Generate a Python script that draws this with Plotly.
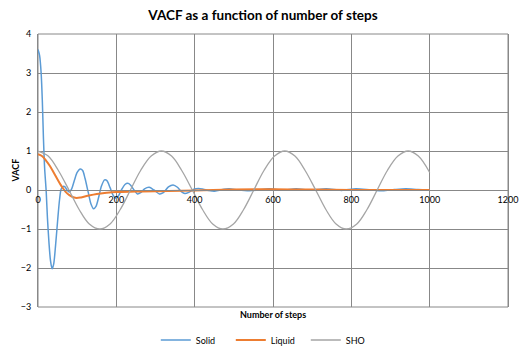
import plotly.graph_objects as go

# ---- data ----
solid_steps = [0, 4, 8, 11, 14, 17, 21, 24, 28, 32, 36, 40, 45, 50, 55, 59, 64, 69, 74, 80,
               86, 93, 100, 108, 114, 120, 128, 135, 142, 148, 155, 162, 170, 176, 184, 192,
               199, 206, 214, 222, 229, 236, 245, 254, 262, 272, 284, 296, 310, 320, 333, 345,
               356, 366, 375, 385, 398, 410, 422, 435, 450, 465, 488, 510, 540, 565, 590, 625,
               659, 695, 736, 775, 812, 850, 880, 910, 939, 970, 1000]
solid_vals = [3.6, 3.45, 3.0, 2.3, 1.3, 0.55, -0.05, -0.7, -1.35, -1.82, -2.02, -1.9, -1.4,
              -0.8, -0.25, 0.02, 0.09, 0.08, 0.0, -0.05, 0.03, 0.25, 0.45, 0.54, 0.5, 0.3,
              -0.05, -0.35, -0.48, -0.42, -0.18, 0.1, 0.26, 0.24, 0.06, -0.14, -0.21, -0.14,
              0.02, 0.14, 0.17, 0.13, 0.0, -0.1, -0.07, 0.03, 0.07, 0.0, -0.1, -0.07, 0.08,
              0.13, 0.07, -0.04, -0.09, -0.06, 0.02, 0.04, 0.02, -0.01, -0.03, 0.0, 0.03, 0.0,
              -0.02, 0.0, 0.03, 0.0, 0.03, 0.0, 0.03, -0.01, 0.03, 0.0, -0.02, 0.01, 0.03,
              0.01, 0.0]

liquid_steps = [0, 10, 20, 30, 40, 50, 60, 70, 80, 95, 110, 130, 150, 175, 200, 250, 300,
                400, 500, 600, 700, 800, 900, 1000]
liquid_vals = [0.92, 0.87, 0.76, 0.62, 0.45, 0.27, 0.1, -0.04, -0.13, -0.2, -0.19, -0.14,
               -0.1, -0.07, -0.05, -0.04, -0.03, -0.01, 0.01, 0.02, 0.01, 0.0, 0.0, 0.0]

sho_steps = [0, 26, 52, 79, 105, 131, 158, 184, 210, 236, 262, 289, 315, 341, 367, 394, 420,
             446, 472, 499, 525, 551, 577, 604, 630, 656, 682, 709, 735, 761, 787, 814, 840,
             866, 892, 919, 945, 971, 1000]
sho_vals = [1, 0.87, 0.5, 0, -0.5, -0.87, -1, -0.87, -0.5, 0, 0.5, 0.87, 1, 0.87, 0.5, 0,
            -0.5, -0.87, -1, -0.87, -0.5, 0, 0.5, 0.87, 1, 0.87, 0.5, 0, -0.5, -0.87, -1,
            -0.87, -0.5, 0, 0.5, 0.87, 1, 0.87, 0.45]

x_ticks = [0, 200, 400, 600, 800, 1000, 1200]
y_ticks = [-3, -2, -1, 0, 1, 2, 3, 4]

FONT = "Lato"
GRID = "#888888"

fig = go.Figure()
fig.add_trace(go.Scatter(x=solid_steps, y=solid_vals, name="Solid", mode="lines",
                         line=dict(color="#5B9BD5", width=1.5, shape="spline", smoothing=0.8)))
fig.add_trace(go.Scatter(x=liquid_steps, y=liquid_vals, name="Liquid", mode="lines",
                         line=dict(color="#ED7D31", width=2, shape="spline", smoothing=1)))
fig.add_trace(go.Scatter(x=sho_steps, y=sho_vals, name="SHO", mode="lines",
                         line=dict(color="#A5A5A5", width=1.3, shape="spline", smoothing=1)))

fig.update_layout(
    width=526, height=353,
    margin=dict(l=38, r=18, t=34, b=46, autoexpand=False),
    paper_bgcolor="white", plot_bgcolor="white",
    font=dict(family=FONT, size=9, color="#000000"),
    title=dict(text="<b>VACF as a function of number of steps</b>", x=0.5, xanchor="center",
               y=1 - 15 / 353, yanchor="middle", font=dict(family=FONT, size=13.5)),
    showlegend=True,
    legend=dict(orientation="h", x=0.49, xanchor="center", y=-33 / 273, yanchor="middle",
                font=dict(size=9), bgcolor="rgba(0,0,0,0)", itemwidth=30,
                entrywidth=30, entrywidthmode="pixels", tracegroupgap=0),
    xaxis=dict(range=[0, 1200], tickvals=x_ticks, showgrid=True, gridcolor=GRID, gridwidth=1,
               zeroline=False, showline=True, linecolor=GRID, linewidth=1,
               anchor="free", position=3 / 7, ticks="", ticklabelstandoff=1,
               tickfont=dict(size=9)),
    yaxis=dict(range=[-3, 4], tickvals=y_ticks, showgrid=True, gridcolor=GRID, gridwidth=1,
               zeroline=False, showline=True, linecolor=GRID, linewidth=1, mirror=True,
               ticks="", domain=[0, 1], tickfont=dict(size=9), ticklabelstandoff=4),
    annotations=[
        dict(text="<b>VACF</b>", xref="paper", yref="paper", x=-23 / 470, y=0.5,
             textangle=-90, showarrow=False, font=dict(size=9), xanchor="center",
             yanchor="middle"),
        dict(text="<b>Number of steps</b>", xref="paper", yref="paper", x=0.5, y=0,
             yshift=-7, showarrow=False, font=dict(size=9), xanchor="center",
             yanchor="middle"),
    ],
    shapes=[dict(type="rect", xref="paper", yref="paper", x0=0, x1=1, y0=0, y1=1,
                 line=dict(color=GRID, width=1), layer="below")],
)

fig.write_html("out.html")
